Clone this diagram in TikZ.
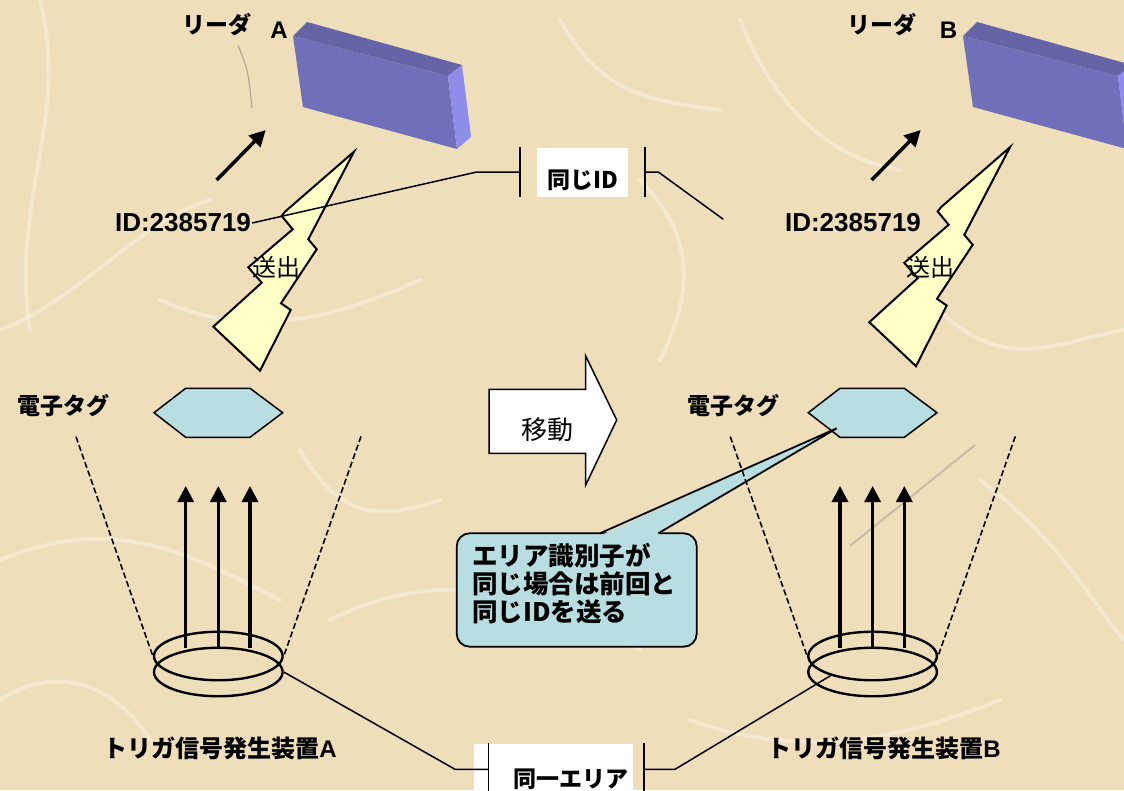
\documentclass[tikz,border=0pt]{standalone}
\usepackage{fontspec}
\setmainfont{Liberation Sans}
\newfontfamily\jp{Noto Sans CJK JP}
\usepackage{tikz}
\usetikzlibrary{arrows.meta}
\usetikzlibrary{shapes.geometric}
\definecolor{paper}{RGB}{238, 222, 186}
\definecolor{fibre}{RGB}{252, 246, 232}
\definecolor{readerfront}{RGB}{112, 112, 186}
\definecolor{readertop}{RGB}{100, 100, 166}
\definecolor{readerside}{RGB}{142, 142, 234}
\definecolor{boltyellow}{RGB}{255, 255, 200}
\definecolor{tagblue}{RGB}{184, 222, 226}

\tikzset{
  jplabel/.style={font=\jp\bfseries\fontsize{23}{27}\selectfont, inner sep=1pt},
  letter/.style={font=\bfseries\fontsize{24}{28}\selectfont, inner sep=1pt},
  idlabel/.style={font=\bfseries\fontsize{26}{30}\selectfont, inner sep=1pt},
  plainlabel/.style={font=\jp\fontsize{24}{28}\selectfont, inner sep=1pt},
  link/.style={line width=1.5pt},
  beam/.style={line width=1.6pt, dash pattern=on 6pt off 3pt},
  ring/.style={ellipse, draw, line width=2.4pt, minimum width=128.6pt, minimum height=48.5pt, inner sep=0pt},
  trigger/.style={line width=3.2pt, -{Triangle[length=16pt, width=16pt]}},
  bolt/.style={fill=boltyellow, draw=black, line width=2pt, line join=miter},
  tag/.style={fill=tagblue, draw=black, line width=1.5pt},
  idbox/.style={fill=white, inner sep=0pt}
}

\begin{document}
\begin{tikzpicture}[x=1pt, y=-1pt]
  \useasboundingbox (0,0) rectangle (1124,790);
  \clip (0,0) rectangle (1124,790);
  \fill[paper] (0,0) rectangle (1124,790);

  % paper fibres
  \begin{scope}[fibre, line width=4pt, opacity=.45, line cap=round]
    \draw (40,0) .. controls (70,120) and (10,200) .. (30,330);
    \draw (0,330) .. controls (80,300) and (140,220) .. (210,200);
    \draw (160,300) .. controls (250,340) and (330,320) .. (420,280);
    \draw (560,20) .. controls (600,90) and (640,100) .. (720,110);
    \draw (640,180) .. controls (700,240) and (690,300) .. (660,360);
    \draw (0,560) .. controls (120,510) and (200,560) .. (280,600);
    \draw (330,620) .. controls (450,560) and (540,600) .. (640,650);
    \draw (690,720) .. controls (800,760) and (900,740) .. (1000,700);
    \draw (930,300) .. controls (1000,380) and (1060,340) .. (1124,330);
    \draw (980,480) .. controls (1060,540) and (1090,600) .. (1124,640);
    \draw (300,450) .. controls (340,520) and (380,520) .. (440,500);
    \draw (740,20) .. controls (780,120) and (840,160) .. (900,170);
    \draw (0,700) .. controls (60,660) and (120,690) .. (150,740);
  \end{scope}
  \draw[black!55, opacity=.5, line width=1.2pt] (238,45) .. controls (248,70) .. (252,108);
  \draw[black!50, opacity=.35, line width=2pt] (850,546) -- (975,445);

  % readers
  \foreach \dx in {0,670}{
    \begin{scope}[xshift=\dx]
      \fill[readerfront] (293,36) -- (448,76) -- (457,149) -- (303,107) -- cycle;
      \fill[readertop]   (293,36) -- (307,22) -- (462,65) -- (448,76) -- cycle;
      \fill[readerside]  (448,76) -- (462,65) -- (471,137) -- (457,149) -- cycle;
    \end{scope}
  }

  % bolts and small arrows towards the readers
  \foreach \dx/\dy in {0/0, 656/-4.5}{
    \begin{scope}[shift={(\dx,\dy)}]
      \filldraw[bolt] (354,151.7) -- (285,211.7) -- (281.7,216) -- (292.7,229.3) -- (248.3,267.3)
        -- (261.7,282.7) -- (213.3,326.7) -- (260,370.7) -- (290.7,310) -- (281,303.3)
        -- (316.7,249.3) -- (308.3,239.3) -- cycle;
    \end{scope}
  }
  \foreach \dx in {0,655}
    \draw[line width=3.5pt, -{Triangle[length=16pt, width=16pt]}] (216.7+\dx,180) -- (265.7+\dx,130);

  % labels
  \node[jplabel] (readerA) at (217,25) {リーダ};
  \node[letter] (letterA) at (279,30.5) {A};
  \node[jplabel] (readerB) at (882,25) {リーダ};
  \node[letter] (letterB) at (948.5,30.5) {B};
  \node[idlabel] (idA) at (183,223) {ID:2385719};
  \node[idlabel] (idB) at (853,223) {ID:2385719};
  \node[plainlabel] (sendA) at (276,267) {送出};
  \node[plainlabel] (sendB) at (930,267) {送出};
  \node[jplabel] (tagA) at (63,406) {電子タグ};
  \node[jplabel] (tagB) at (733,406) {電子タグ};
  \node[jplabel, font=\jp\bfseries\fontsize{24}{28}\selectfont] (trigA) at (220,748.5) {トリガ信号発生装置{\rmfamily A}};
  \node[jplabel, font=\jp\bfseries\fontsize{24}{28}\selectfont] (trigB) at (884,748.5) {トリガ信号発生装置{\rmfamily B}};

  % same ID
  \node[idbox, jplabel, inner sep=0pt, minimum width=91pt, minimum height=49pt, outer xsep=17pt,
        text height=32pt, text depth=0pt] (sameid) at (582.5,172) {同じID};
  \coordinate (idB-end) at (723.3,219.3);
  \draw[link] (idA.east) -- (476.7,172) -- (sameid.west);
  \draw[link] ([yshift=25pt]sameid.west) -- ([yshift=-25pt]sameid.west);
  \draw[link] ([yshift=25pt]sameid.east) -- ([yshift=-25pt]sameid.east);
  \draw[link] (sameid.east) -- (658.3,172) -- (idB-end);

  % move
  \filldraw[fill=white, draw=black, line width=1.5pt] (489,389.3) -- (585.7,389.3) -- (585.7,356)
    -- (616.7,420) -- (585.7,485) -- (585.7,453.3) -- (489,453.3) -- cycle;
  \node[plainlabel, font=\jp\fontsize{26}{30}\selectfont] (move) at (547.7,430) {移動};

  % tags, beams, rings, trigger arrows
  \foreach \dx/\n in {0/A, 654.3/B}{
    \filldraw[tag] (154+\dx,412.7) -- (185.7+\dx,388.3) -- (250+\dx,388.3) -- (282.7+\dx,412.7)
      -- (250+\dx,437.3) -- (185.7+\dx,437.3) -- cycle;
  }
  \coordinate (tagB-in) at (836.7,428.3);

  % callout
  \filldraw[fill=tagblue, draw=black, line width=1.8pt, rounded corners=13pt] (456.7,533.3) rectangle (696.7,646.7);
  \fill[tagblue] (601.5,535) -- (tagB-in) -- (657,535) -- cycle;
  \draw[line width=1.8pt, line join=miter] (600,533.3) -- (tagB-in) -- (658.3,533.3);
  \node[jplabel, font=\jp\bfseries\fontsize{25.5}{28}\selectfont, align=left, anchor=west] (note) at (471,584)
    {エリア識別子が\\同じ場合は前回と\\同じIDを送る};

  \foreach \dx/\n in {0/A, 654.3/B}{
    \node[ring] (ring\n-up) at (218.3+\dx,656) {};
    \node[ring] (ring\n-lo) at (218.3+\dx,672) {};
    \draw[beam] (76+\dx,436.7) -- (ring\n-up.west);
    \draw[beam] (361+\dx,436.4) -- (ring\n-up.east);
    \foreach \x in {185.7,218.3,250}
      \draw[trigger] (\x+\dx,648.3) -- (\x+\dx,486);
  }

  % same area
  \node[idbox, jplabel, minimum height=70pt, text width=151pt, align=right, inner xsep=4pt,
        anchor=north] (samearea) at (553,744) {同一エリア};
  \coordinate (areaL) at (488.3,769.3);
  \coordinate (areaR) at (644,769.3);
  \draw[link] (ringA-lo.east) -- (455,769.3) -- (areaL);
  \draw[link] ([yshift=26pt]areaL) -- ([yshift=-40pt]areaL);
  \draw[link] ([yshift=26pt]areaR) -- ([yshift=-40pt]areaR);
  \draw[link] (areaR) -- (675,769.3) -- (ringB-up.205);
\end{tikzpicture}
\end{document}
